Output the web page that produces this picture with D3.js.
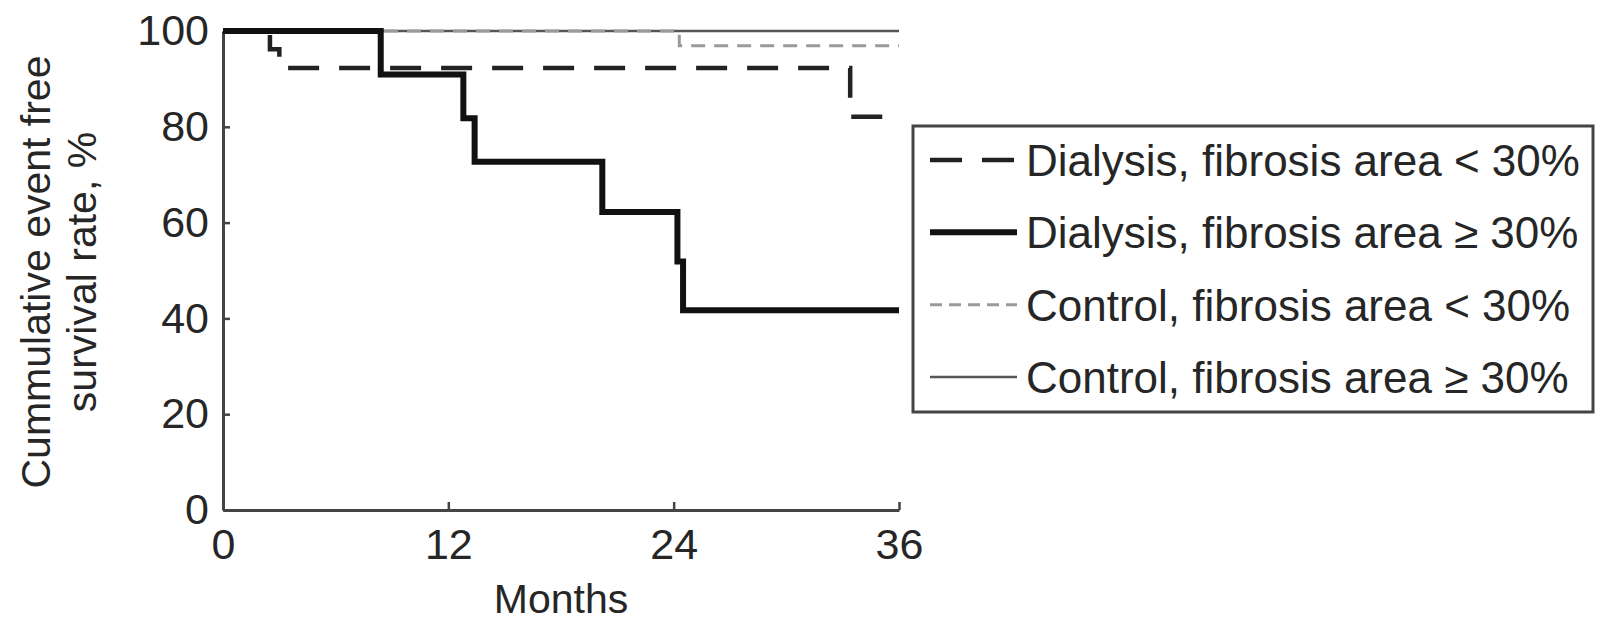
<!DOCTYPE html>
<html>
<head>
<meta charset="utf-8">
<script src="https://cdn.jsdelivr.net/npm/d3@7"></script>
<style>
  body { margin: 0; background: #fff; }
  svg text { font-family: 'Liberation Sans', Arial, sans-serif; fill: #262626; }
</style>
</head>
<body>
<div id="chart"></div>
<script>
// Kaplan-Meier curves (months, % event free)
const dialLowMonths = [0, 2.5, 3.0, 33.4, 36];
const dialLowSurv = [100, 96.2, 92.3, 82.1, 82.1];

const dialHighMonths = [0, 8.4, 12.8, 13.4, 20.2, 24.2, 24.5, 36];
const dialHighSurv = [100, 90.9, 81.8, 72.7, 62.2, 51.9, 41.7, 41.7];

const ctrlLowMonths = [0, 24.3, 36];
const ctrlLowSurv = [100, 96.9, 96.9];

const ctrlHighMonths = [0, 36];
const ctrlHighSurv = [100, 100];

const xTicks = [0, 12, 24, 36];
const yTicks = [0, 20, 40, 60, 80, 100];

const seriesNames = [
  'Dialysis, fibrosis area < 30%',
  'Dialysis, fibrosis area \u2265 30%',
  'Control, fibrosis area < 30%',
  'Control, fibrosis area \u2265 30%',
];

const width = 1598;
const height = 625;

const styles = [
  { stroke: '#222', width: 4.5, dash: '31,20' },
  { stroke: '#111', width: 6, dash: null },
  { stroke: '#9a9a9a', width: 3, dash: '14,9' },
  { stroke: '#555', width: 2.5, dash: null },
];

const zip = (t, s) => t.map((m, i) => ({ m, s: s[i] }));
const series = [
  zip(dialLowMonths, dialLowSurv),
  zip(dialHighMonths, dialHighSurv),
  zip(ctrlLowMonths, ctrlLowSurv),
  zip(ctrlHighMonths, ctrlHighSurv),
];

const svg = d3.select('#chart')
  .append('svg')
  .attr('width', width)
  .attr('height', height);

const x = d3.scaleLinear().domain([0, 36]).range([223, 899]);
const y = d3.scaleLinear().domain([0, 100]).range([510, 31]);

// axes
const xAxis = svg.append('g')
  .attr('transform', `translate(0 ${y(0)})`)
  .call(d3.axisBottom(x).tickValues(xTicks).tickSizeInner(-8).tickSizeOuter(0).tickPadding(18));

const yAxis = svg.append('g')
  .attr('transform', `translate(${x(0)} 0)`)
  .call(d3.axisLeft(y).tickValues(yTicks).tickSizeInner(-7).tickSizeOuter(0).tickPadding(14));

[xAxis, yAxis].forEach((ax) => {
  ax.select('.domain').attr('stroke', '#444').attr('stroke-width', 3);
  ax.selectAll('.tick line').attr('stroke', '#444').attr('stroke-width', 2.5);
  ax.selectAll('.tick text')
    .style('font-size', '43px')
    .style('font-family', "'Liberation Sans', Arial, sans-serif")
    .attr('fill', '#262626');
});

// curves
const line = d3.line()
  .x((d) => x(d.m))
  .y((d) => y(d.s))
  .curve(d3.curveStepAfter);

const drawOrder = [3, 2, 0, 1];
drawOrder.forEach((i) => {
  svg.append('path')
    .datum(series[i])
    .attr('d', line)
    .attr('fill', 'none')
    .attr('stroke', styles[i].stroke)
    .attr('stroke-width', styles[i].width)
    .attr('stroke-dasharray', styles[i].dash);
});

// axis titles
svg.append('text')
  .attr('x', x(18))
  .attr('y', 613)
  .attr('text-anchor', 'middle')
  .style('font-size', '41px')
  .text('Months');

const yTitle = svg.append('text')
  .attr('transform', 'translate(36 272) rotate(-90)')
  .attr('text-anchor', 'middle')
  .style('font-size', '41px');
yTitle.append('tspan').attr('x', 0).attr('dy', '0.35em').text('Cummulative event free');
yTitle.append('tspan').attr('x', 0).attr('dy', '1.12em').text('survival rate, %');

// legend
const legend = svg.append('g');
legend.append('rect')
  .attr('x', 913)
  .attr('y', 126)
  .attr('width', 680)
  .attr('height', 286)
  .attr('fill', 'none')
  .attr('stroke', '#444')
  .attr('stroke-width', 3);

const rowY = d3.scalePoint().domain(d3.range(4)).range([160, 377]);

seriesNames.forEach((name, i) => {
  legend.append('line')
    .attr('x1', 930)
    .attr('x2', 1017)
    .attr('y1', rowY(i))
    .attr('y2', rowY(i))
    .attr('stroke', styles[i].stroke)
    .attr('stroke-width', styles[i].width)
    .attr('stroke-dasharray', i === 0 ? '32,20' : (i === 2 ? '12,7' : null));
  legend.append('text')
    .attr('x', 1026)
    .attr('y', rowY(i))
    .attr('dy', '0.36em')
    .style('font-size', '44px')
    .text(name);
});
</script>
</body>
</html>
